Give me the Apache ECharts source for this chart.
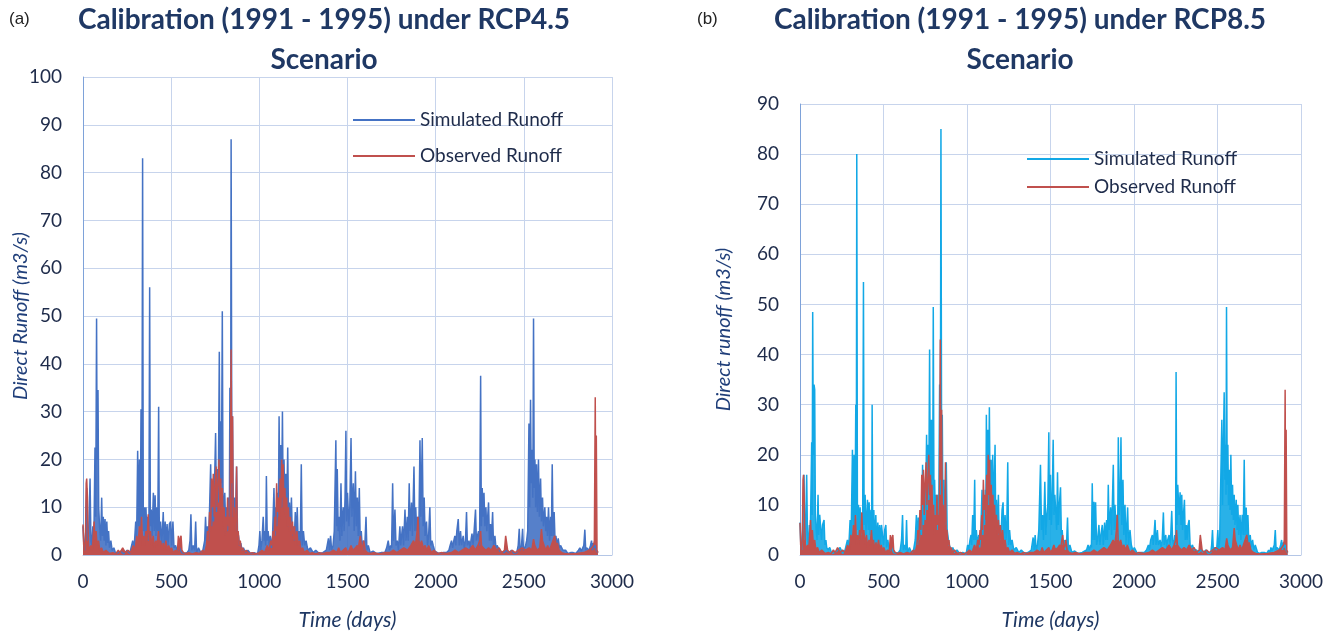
<!DOCTYPE html>
<html>
<head>
<meta charset="utf-8">
<script src="https://cdn.jsdelivr.net/npm/echarts@6/dist/echarts.min.js"></script>
<style>
html,body{margin:0;padding:0;background:#fff;}
#chart{width:1328px;height:636px;}
</style>
</head>
<body>
<div id="chart"></div>
<script>
// ---- Data (day, runoff m3/s) ----
const simulatedA = [[0,6],[5,2],[10,1],[15,5],[21,14],[26,3],[32,4],[40,16],[45,3],[50,2],[56,6],[62,4],[68,22.5],[72,8],[77,49.5],[80,20],[85,34.5],[89,10],[94,6],[100,3],[106,12],[110,4],[115,8],[120,3],[125,7.5],[130,2],[135,7],[140,2.5],[145,5],[150,1.5],[158,3],[165,1],[175,1.5],[185,0.3],[200,0.5],[215,0.8],[230,0.2],[250,1],[265,0.3],[282,3],[290,1.5],[299,7],[304,3],[310,21.8],[315,6],[320,20],[325,5],[329,30.5],[334,8],[338,83],[342,5],[348,10],[352,3],[357,10],[362,4],[366,8],[370,3],[374,6],[378,56],[382,6],[387,9.5],[392,4],[399,13],[404,5],[409,12.5],[414,4],[419,10],[424,5],[429,31],[433,3],[440,7],[447,2],[455,9],[460,2],[466,7],[471,2.5],[477,6.5],[482,2],[490,6.5],[497,7],[503,2],[510,7],[516,1.5],[525,2],[535,0.8],[548,1.5],[560,0.5],[575,0.3],[590,0.5],[600,1],[607,3],[612,8.5],[617,1],[625,2],[633,1],[639,7],[644,0.5],[655,1.5],[668,0.5],[680,1],[690,3],[695,8],[700,3],[706,6],[712,3],[718,10],[724,19],[729,6],[735,12],[740,7],[746,15],[752,25.5],[757,9],[762,18],[767,11],[773,42.5],[777,15],[781,28],[785,15],[790,51],[794,13],[799,8],[804,13],[809,6],[814,10],[819,5],[825,12],[830,8],[833,35],[837,12],[840,87],[844,20],[848,29],[852,8],[858,12],[864,6],[871,18.5],[876,5],[882,4],[888,2],[895,2.5],[902,1],[910,1.5],[920,0.5],[935,1],[950,0.3],[970,0.5],[990,0.2],[998,2],[1003,5],[1008,1],[1015,3],[1022,8],[1027,3],[1032,5],[1036,2],[1040,16.5],[1045,3],[1050,5],[1056,2],[1062,4],[1068,1.5],[1075,4],[1083,14],[1088,4],[1093,10],[1098,6],[1104,13],[1108,8],[1112,29],[1117,10],[1122,23],[1126,10],[1131,30],[1135,12],[1140,20],[1145,9],[1150,17],[1155,8],[1161,22.5],[1166,6],[1171,11],[1176,5],[1182,12],[1187,4],[1193,6],[1198,3],[1204,9],[1209,3],[1215,10],[1220,3],[1226,5],[1232,2],[1238,19],[1243,2],[1250,5],[1257,2],[1265,3],[1275,1],[1290,1.5],[1305,0.5],[1320,1],[1340,0.3],[1360,0.5],[1380,1],[1392,3.5],[1398,1],[1404,4],[1410,1],[1418,2],[1425,5],[1434,24],[1438,6],[1442,18],[1447,5],[1452,8],[1457,3],[1463,15],[1468,4],[1472,8],[1476,10],[1481,5],[1486,12],[1491,26],[1495,7],[1500,13],[1504,13],[1508,6],[1513,10],[1520,24.5],[1525,8],[1529,12],[1533,15],[1538,5],[1545,17.5],[1550,6],[1556,12],[1561,4],[1567,14],[1572,3],[1578,5],[1583,2],[1590,3],[1597,1],[1605,8],[1610,1],[1618,2],[1628,0.5],[1645,0.8],[1665,0.3],[1690,0.5],[1712,0.5],[1722,1.5],[1731,3],[1738,1],[1745,2],[1750,1.5],[1756,15],[1761,3],[1769,9.5],[1775,2],[1782,3],[1789,1],[1797,6],[1802,2],[1807,4],[1812,6],[1818,2],[1826,9.5],[1832,3],[1839,8],[1844,3],[1850,15],[1855,5],[1863,11],[1868,4],[1877,18.5],[1882,5],[1887,10],[1892,5],[1898,8],[1904,3],[1911,24],[1916,8],[1924,24.5],[1929,6],[1935,12],[1940,4],[1948,7],[1954,2],[1960,4],[1967,10],[1972,2],[1979,3],[1986,2],[1995,0.8],[2005,1],[2020,0.3],[2040,0.5],[2062,0.5],[2075,1],[2082,2],[2090,3],[2096,1.5],[2103,3],[2109,4],[2114,2],[2120,5],[2128,7.5],[2134,2],[2141,5],[2147,2],[2156,4],[2162,1.5],[2169,3],[2175,9],[2180,2],[2189,3],[2195,1.5],[2200,3],[2206,4.5],[2212,2],[2218,5],[2226,9.5],[2231,3],[2237,4],[2243,5],[2249,2],[2255,37.5],[2259,6],[2264,14],[2269,8],[2274,13],[2279,6],[2285,10],[2290,5],[2295,8],[2300,11],[2305,3],[2311,6.5],[2316,3],[2323,9],[2328,2],[2336,4],[2342,1.5],[2348,2],[2355,2],[2364,0.8],[2374,1],[2388,0.5],[2402,1],[2415,0.5],[2430,1],[2445,0.3],[2460,0.5],[2468,2],[2474,5.5],[2479,1],[2486,1.5],[2493,5.5],[2498,1],[2505,1.5],[2510,2],[2516,3],[2522,5],[2529,27.5],[2533,10],[2538,32.5],[2542,15],[2547,22],[2551,12],[2555,49.5],[2559,14],[2563,20],[2567,10],[2572,19],[2577,9],[2583,20],[2588,8],[2595,16],[2600,7],[2606,12],[2611,6],[2619,10],[2624,5],[2629,8],[2634,4],[2640,10],[2646,3],[2652,8],[2656,4],[2661,19],[2666,4],[2672,9],[2677,3],[2682,4],[2688,2],[2695,3.5],[2702,1.5],[2708,2],[2714,2],[2722,1],[2737,1],[2750,0.3],[2765,0.5],[2780,0.5],[2795,0.3],[2810,1],[2818,1.5],[2826,0.8],[2834,1.5],[2840,2],[2846,5.3],[2851,1],[2856,1.5],[2862,1.5],[2870,1],[2878,2],[2884,3],[2889,1],[2894,2.5],[2900,1.5],[2905,2],[2911,1],[2920,0.5]];

const simulatedB = [[0,6.5],[5,2],[10,1],[15,5],[24,16],[28,3],[33,4],[40,16],[45,3],[50,2],[56,6],[62,4],[70,22.5],[73,8],[76,48.5],[80,20],[84,34],[88,33],[92,8],[97,5],[102,3],[108,12],[112,4],[118,8],[124,8],[129,3],[135,6],[144,7],[149,2],[155,3],[160,1.5],[168,1],[178,1.5],[190,0.3],[205,0.5],[220,0.8],[240,1.5],[255,0.3],[270,1],[284,3],[292,1.5],[300,7],[306,3],[314,21],[319,6],[324,20],[329,5],[334,30],[337,8],[340,80],[344,5],[350,10],[354,3],[360,9.5],[365,4],[370,8],[375,3],[380,54.5],[384,6],[390,12],[395,4],[404,11],[409,5],[414,10.5],[419,4],[425,9],[429,5],[432,30],[436,3],[442,9],[448,2],[454,8],[459,2],[466,6.5],[471,2.5],[477,6],[482,2],[488,6],[494,6],[500,2],[507,5],[514,6],[519,1.5],[526,3],[535,0.8],[548,1.5],[560,0.5],[575,0.3],[590,0.5],[600,1],[608,3],[614,8],[619,1],[627,2],[633,1],[638,7],[643,0.5],[655,1.5],[668,0.5],[680,1],[690,3],[697,8],[703,2],[708,7.5],[714,3],[720,8],[727,4],[734,18],[739,6],[745,12],[750,7],[754,14],[758,24],[762,9],[766,22],[771,11],[776,41],[780,15],[784,27],[788,13],[792,27],[795,15],[798,49.5],[802,13],[806,15],[811,6],[816,12],[821,5],[826,12],[831,8],[836,34],[840,12],[844,85],[848,20],[852,28],[856,8],[862,15],[867,6],[876,18.5],[881,5],[887,5],[893,2],[900,2],[908,1],[915,1.5],[925,0.5],[940,1],[955,0.3],[975,0.5],[995,0.2],[1004,2],[1010,1],[1018,3],[1024,4],[1028,2],[1034,8],[1040,3],[1046,15],[1050,3],[1056,5],[1062,2],[1070,4],[1076,1.5],[1082,4],[1090,13],[1095,4],[1100,10],[1105,6],[1110,13],[1113,8],[1116,28],[1120,10],[1124,25],[1129,10],[1134,29.5],[1138,12],[1144,19],[1149,9],[1154,20],[1159,8],[1163,14],[1168,22],[1172,6],[1176,11],[1182,5],[1188,12],[1192,4],[1198,6],[1203,3],[1210,9],[1216,10.5],[1221,3],[1228,8],[1234,3],[1238,5],[1244,18.5],[1249,2],[1255,5],[1262,2],[1270,3],[1280,1],[1295,1.5],[1310,0.5],[1325,1],[1345,0.3],[1365,0.5],[1385,1],[1396,3.5],[1402,1],[1408,4],[1414,1],[1422,2],[1430,5],[1440,18],[1446,5],[1452,8],[1458,3],[1466,14.6],[1472,4],[1478,8],[1484,10],[1490,24.5],[1494,7],[1500,16],[1505,6],[1510,10],[1516,23],[1521,8],[1526,12],[1532,12],[1537,5],[1542,16.5],[1547,6],[1553,10],[1560,13.5],[1565,4],[1570,5],[1576,2],[1583,3],[1590,1],[1597,3],[1602,7.5],[1607,1],[1616,2],[1628,0.5],[1645,0.8],[1665,0.3],[1690,0.5],[1716,1],[1725,2],[1732,1],[1740,2],[1745,1.5],[1750,14.3],[1755,3],[1760,10.6],[1765,3],[1770,10.5],[1776,2],[1782,3],[1790,6],[1796,2],[1802,4],[1810,6],[1816,2],[1824,6.5],[1830,3],[1836,7],[1841,3],[1846,14],[1851,5],[1860,9.5],[1866,4],[1876,18],[1881,5],[1886,10],[1892,5],[1898,8],[1902,3],[1906,23.5],[1911,8],[1916,10],[1922,23.5],[1927,6],[1934,15],[1939,4],[1946,10],[1952,2],[1962,9.5],[1967,2],[1976,5],[1984,2],[1994,0.8],[2002,1.5],[2020,0.3],[2040,0.5],[2062,0.5],[2075,1],[2086,2],[2092,1],[2100,3],[2110,4],[2115,2],[2120,4],[2126,7],[2132,2],[2140,5],[2146,2],[2156,3],[2162,1.5],[2169,3],[2176,8.5],[2181,2],[2190,4],[2196,1.5],[2202,3],[2210,4],[2216,2],[2220,4],[2226,8.8],[2231,3],[2238,2],[2244,4],[2249,2],[2252,36.5],[2256,6],[2262,14],[2266,14],[2270,8],[2276,12.5],[2281,6],[2286,12],[2291,5],[2296,8],[2302,11],[2307,3],[2314,6],[2318,3],[2324,6],[2330,7],[2336,2],[2342,1.5],[2350,2],[2360,1],[2374,1],[2388,0.5],[2402,1],[2415,0.5],[2430,1],[2445,0.3],[2460,0.5],[2465,2],[2470,5],[2475,1],[2485,1.5],[2495,1],[2502,5],[2507,1],[2513,3],[2520,3],[2526,27],[2530,10],[2540,32.5],[2544,15],[2548,22],[2551,12],[2554,49.5],[2558,14],[2562,22],[2566,10],[2570,17],[2575,9],[2580,20],[2585,8],[2590,14],[2595,7],[2600,12],[2605,6],[2612,11],[2617,5],[2622,10],[2627,4],[2635,8],[2640,3],[2648,8],[2654,4],[2660,19],[2665,4],[2672,9.5],[2677,3],[2682,8],[2688,2],[2696,4],[2702,1.5],[2710,3],[2718,1],[2726,2],[2732,2],[2740,0.5],[2752,0.3],[2765,0.5],[2780,0.5],[2795,0.3],[2806,1],[2814,0.5],[2820,1.5],[2826,0.8],[2834,1.5],[2840,2],[2846,5],[2851,1],[2856,1.5],[2862,1.5],[2870,1],[2878,2],[2884,3],[2889,1],[2894,2.5],[2900,1.5],[2905,2],[2911,1],[2920,0.5]];

const observed = [[0,6.4],[4,2],[8,1],[14,3],[18,15],[21,16],[25,12],[28,6],[32,2],[38,1],[45,2],[52,1],[58,4],[63,7],[68,3],[74,5],[80,2],[88,3],[95,1],[105,1.5],[115,0.5],[130,1],[150,0.3],[170,0.5],[185,0.2],[200,1],[210,0.5],[225,1.5],[240,0.5],[255,1],[270,0.5],[285,2],[295,1],[305,4],[312,2],[320,6],[327,3],[332,8],[338,2],[344,4],[350,2],[357,5],[363,3],[370,8.5],[376,3],[382,5],[390,2],[398,4],[405,1.5],[413,3],[420,2],[428,5],[434,2],[440,3],[448,1],[455,2.5],[462,1],[470,3],[478,1],[486,2],[494,1],[502,1.5],[512,0.5],[525,1],[535,0.5],[541,4],[546,1],[551,3.5],[556,4],[561,1],[570,0.5],[585,0.3],[600,0.5],[620,0.2],[640,0.5],[660,0.3],[680,1],[690,0.5],[700,2],[706,5],[712,3],[718,9],[724,5],[729,16],[734,10],[739,17],[744,8],[749,14],[755,18.5],[760,10],[766,15],[771,20],[776,12],[781,16],[786,8],[790,14],[795,6],[800,10],[805,4],[810,8],[815,5],[820,12],[825,6],[830,8],[834,5],[838,30],[840,43],[844,15],[848,29],[852,8],[857,10],[862,5],[867,8],[871,18.5],[875,4],[880,5],[886,2],[892,3],[898,1],[905,1.5],[915,0.5],[925,1],[940,0.3],[960,0.5],[980,0.2],[1000,0.5],[1015,1],[1030,0.5],[1045,2],[1055,1],[1065,3],[1072,2],[1078,5],[1083,3],[1088,8],[1093,5],[1098,15],[1103,9],[1108,12],[1113,7],[1118,16],[1123,10],[1127,20],[1131,12],[1135,19],[1140,9],[1145,14],[1150,8],[1155,12],[1160,6],[1165,10],[1170,5],[1176,8],[1182,4],[1188,7],[1194,3],[1200,6],[1206,2],[1213,5],[1220,2],[1228,3],[1236,1],[1245,1.5],[1255,0.5],[1270,1],[1285,0.3],[1300,0.5],[1320,0.2],[1340,0.5],[1360,0.3],[1380,0.5],[1400,0.5],[1420,1],[1440,0.5],[1450,1.5],[1460,0.5],[1475,1],[1490,1.5],[1500,0.5],[1510,1],[1520,2],[1530,1],[1545,1.5],[1555,2],[1560,1],[1568,3],[1573,4],[1578,2],[1585,1.5],[1592,3],[1600,1],[1612,0.5],[1630,0.3],[1650,0.5],[1680,0.2],[1710,0.5],[1740,0.5],[1760,1],[1780,0.5],[1800,1],[1820,1.5],[1840,1],[1860,2],[1875,3],[1885,2],[1895,5],[1900,8],[1905,3],[1912,2],[1920,3],[1930,1.5],[1940,2],[1950,1],[1960,2],[1975,0.5],[1990,1],[2010,0.3],[2030,0.5],[2060,0.3],[2090,0.5],[2110,1],[2130,0.5],[2150,1],[2170,1.5],[2190,1],[2210,2],[2225,1],[2240,2],[2250,3],[2255,5],[2260,2],[2270,1.5],[2285,1],[2300,1.5],[2315,1],[2330,2],[2345,1],[2360,1.5],[2375,0.5],[2390,1],[2397,4],[2403,4],[2408,1],[2420,0.5],[2435,1],[2450,0.5],[2470,1],[2490,1.5],[2510,1],[2530,1.5],[2545,1],[2555,3.3],[2562,2],[2575,1],[2590,1.5],[2600,5.4],[2606,3],[2615,2],[2625,1],[2635,2],[2645,1],[2655,2],[2665,3],[2675,4],[2683,2],[2690,2.5],[2700,1],[2715,0.5],[2730,0.3],[2760,0.2],[2800,0.3],[2840,0.5],[2870,1],[2885,1.5],[2895,2],[2900,3],[2905,33],[2908,8],[2911,25],[2915,1],[2920,0.5]];

const panelLetters = ['(a)', '(b)'];
const titles = ['Calibration (1991 - 1995) under RCP4.5\nScenario', 'Calibration (1991 - 1995) under RCP8.5\nScenario'];
const yNames = ['Direct Runoff (m3/s)', 'Direct runoff (m3/s)'];
const xName = 'Time (days)';
const seriesNames = ['Simulated Runoff', 'Observed Runoff'];

// ---- Styles ----
const FONT = 'Lato, "Open Sans", sans-serif';
const NAVY = '#1f3864';
const LABEL = '#1e2b4a';
const GRID = '#c7d4ec';
const COL_SIM_A = '#4472c4';
const COL_SIM_B = '#12a8e6';
const COL_OBS = '#c0504d';

function xAx(gi) {
  return {
    type: 'value', gridIndex: gi, min: 0, max: 3000, interval: 500,
    name: xName, nameLocation: 'middle', nameGap: 55,
    nameTextStyle: {fontFamily: FONT, fontStyle: 'italic', fontSize: 21, color: NAVY},
    axisLine: {show: true, lineStyle: {color: '#b4c6e6', width: 1}},
    axisTick: {show: false},
    axisLabel: {fontFamily: FONT, fontSize: 19, color: LABEL, margin: 17, formatter: v => String(v)},
    splitLine: {show: true, lineStyle: {color: GRID, width: 1}}
  };
}
function yAx(gi, max, name, gap) {
  return {
    type: 'value', gridIndex: gi, min: 0, max: max, interval: 10,
    name: name, nameLocation: 'middle', nameGap: gap, nameRotate: 90,
    nameMoveOverlap: false,
    nameTextStyle: {fontFamily: FONT, fontStyle: 'italic', fontSize: 20, color: '#203f7a'},
    axisLine: {show: true, lineStyle: {color: '#7ea2d9', width: 1}},
    axisTick: {show: false},
    axisLabel: {fontFamily: FONT, fontSize: 19, color: LABEL, margin: 21},
    splitLine: {show: true, lineStyle: {color: GRID, width: 1}}
  };
}
function line(name, gi, data, color, fillOpacity) {
  return {
    name: name, type: 'line', xAxisIndex: gi, yAxisIndex: gi, data: data,
    showSymbol: false, symbol: 'none', sampling: false,
    lineStyle: {color: color, width: 1.5}, itemStyle: {color: color},
    areaStyle: {color: color, opacity: fillOpacity},
    silent: true
  };
}

const chart = echarts.init(document.getElementById('chart'), null, {renderer: 'canvas'});
chart.setOption({
  animation: false,
  backgroundColor: '#ffffff',
  title: [
    {text: panelLetters[0], left: 9, top: 11, padding: 0, textStyle: {fontFamily: '"Liberation Sans", Arial, sans-serif', fontWeight: 'normal', fontSize: 17, color: '#222'}},
    {text: panelLetters[1], left: 697, top: 11, padding: 0, textStyle: {fontFamily: '"Liberation Sans", Arial, sans-serif', fontWeight: 'normal', fontSize: 17, color: '#222'}},
    {text: titles[0], left: 324, top: 0, padding: 0, textAlign: 'center', textStyle: {fontFamily: FONT, fontWeight: 'bold', fontSize: 28, lineHeight: 40, color: NAVY}},
    {text: titles[1], left: 1020, top: 0, padding: 0, textAlign: 'center', textStyle: {fontFamily: FONT, fontWeight: 'bold', fontSize: 28, lineHeight: 40, color: NAVY}}
  ],
  legend: [
    {
      left: 353, top: 110, orient: 'vertical', itemGap: 16, padding: 0,
      icon: 'rect', itemWidth: 62, itemHeight: 2,
      textStyle: {fontFamily: FONT, fontSize: 19, color: LABEL, lineHeight: 20},
      data: [
        {name: seriesNames[0], itemStyle: {color: COL_SIM_A}},
        {name: seriesNames[1], itemStyle: {color: COL_OBS}}
      ],
      selectedMode: false
    },
    {
      left: 1027, top: 149, orient: 'vertical', itemGap: 8, padding: 0,
      icon: 'rect', itemWidth: 62, itemHeight: 2,
      textStyle: {fontFamily: FONT, fontSize: 19, color: LABEL, lineHeight: 20},
      data: [
        {name: seriesNames[0], itemStyle: {color: COL_SIM_B}},
        {name: seriesNames[1], itemStyle: {color: COL_OBS}}
      ],
      selectedMode: false
    }
  ],
  grid: [
    {left: 83, top: 77, width: 529, height: 479},
    {left: 800, top: 104, width: 501, height: 453}
  ],
  xAxis: [xAx(0), xAx(1)],
  yAxis: [yAx(0, 100, yNames[0], 52), yAx(1, 90, yNames[1], 66)],
  series: [
    line(seriesNames[0], 0, simulatedA, COL_SIM_A, 0.9),
    line(seriesNames[1], 0, observed, COL_OBS, 1),
    line(seriesNames[0], 1, simulatedB, COL_SIM_B, 0.9),
    line(seriesNames[1], 1, observed, COL_OBS, 1)
  ]
});
</script>
</body>
</html>
